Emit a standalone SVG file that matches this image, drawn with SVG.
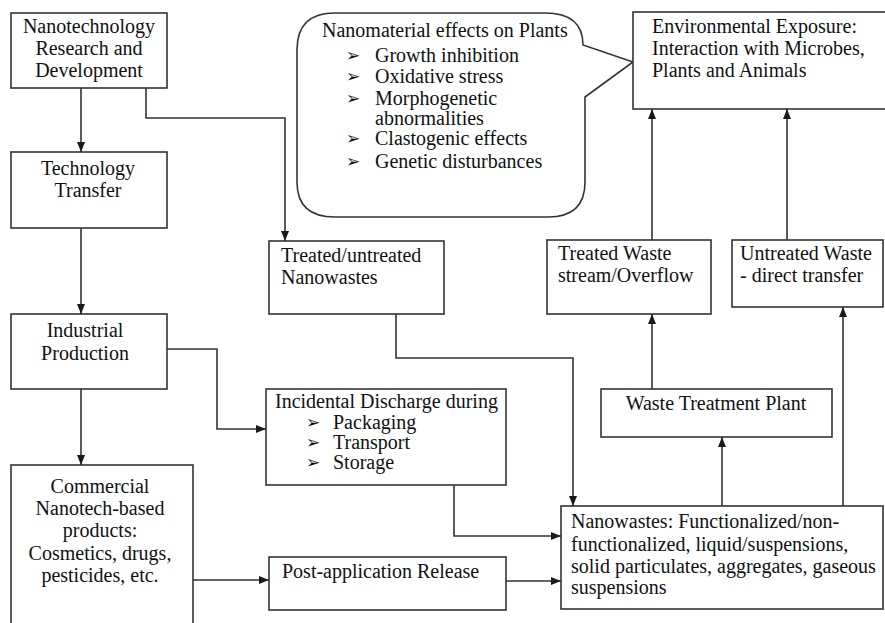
<svg xmlns="http://www.w3.org/2000/svg" width="885" height="623" viewBox="0 0 885 623">
<defs>
<marker id="ah" markerUnits="userSpaceOnUse" markerWidth="10" markerHeight="10" viewBox="0 0 10 10" refX="10" refY="5" orient="auto">
<path d="M0,1 L10,5 L0,9 Z" fill="#1a1a1a"/>
</marker>
<style>
.box{fill:#fff;stroke:#333;stroke-width:1.6}
.t{font-family:'Liberation Serif','DejaVu Serif','Times New Roman',serif;font-size:20px;fill:#111}
.c{text-anchor:middle}
.b{font-family:'DejaVu Sans',sans-serif;font-size:17px;fill:#111}
.con path{fill:none;stroke:#333;stroke-width:1.6;marker-end:url(#ah)}
</style>
</defs>
<rect width="885" height="623" fill="#fff"/>

<g id="bubble">
<path class="box" d="M335,13 H545 Q583,13 583,45 L633,62 L585,97 V182 Q585,217 548,217 H335 Q297,217 297,182 V50 Q297,13 335,13 Z"/>
<text class="t" font-family="Liberation Serif" x="322" y="37">Nanomaterial effects on Plants</text>
<text class="b" x="346" y="61">➢</text><text class="t" font-family="Liberation Serif" x="375" y="62">Growth inhibition</text>
<text class="b" x="346" y="82">➢</text><text class="t" font-family="Liberation Serif" x="375" y="83">Oxidative stress</text>
<text class="b" x="346" y="104">➢</text><text class="t" font-family="Liberation Serif" x="375" y="105">Morphogenetic</text>
<text class="t" font-family="Liberation Serif" x="375" y="125">abnormalities</text>
<text class="b" x="346" y="144">➢</text><text class="t" font-family="Liberation Serif" x="375" y="145">Clastogenic effects</text>
<text class="b" x="346" y="167">➢</text><text class="t" font-family="Liberation Serif" x="375" y="168">Genetic disturbances</text>
</g>

<g id="rnd" font-family="Liberation Serif">
<rect class="box" x="11" y="13" width="156" height="75"/>
<text class="t c" x="89" y="33">Nanotechnology</text>
<text class="t c" x="89" y="55">Research and</text>
<text class="t c" x="89" y="77">Development</text>
</g>

<g id="techtransfer">
<rect class="box" x="11" y="152" width="156" height="76"/>
<text class="t c" x="88" y="175">Technology</text>
<text class="t c" x="88" y="197">Transfer</text>
</g>

<g id="industrial">
<rect class="box" x="11" y="314" width="156" height="75"/>
<text class="t c" x="85" y="337">Industrial</text>
<text class="t c" x="85" y="360">Production</text>
</g>

<g id="commercial">
<rect class="box" x="11" y="465" width="182" height="170"/>
<text class="t c" x="100" y="493">Commercial</text>
<text class="t c" x="100" y="515">Nanotech-based</text>
<text class="t c" x="100" y="537">products:</text>
<text class="t c" x="100" y="560">Cosmetics, drugs,</text>
<text class="t c" x="100" y="582">pesticides, etc.</text>
</g>

<g id="nanowastes-tu">
<rect class="box" x="269" y="241" width="175" height="73"/>
<text class="t" x="281" y="262">Treated/untreated</text>
<text class="t" x="281" y="284">Nanowastes</text>
</g>

<g id="incidental">
<rect class="box" x="266" y="389" width="240" height="96"/>
<text class="t" x="275" y="408">Incidental Discharge during</text>
<text class="b" x="306" y="428">➢</text><text class="t" x="333" y="429">Packaging</text>
<text class="b" x="306" y="448">➢</text><text class="t" x="333" y="449">Transport</text>
<text class="b" x="306" y="468">➢</text><text class="t" x="333" y="469">Storage</text>
</g>

<g id="postapp">
<rect class="box" x="269" y="557" width="237" height="53"/>
<text class="t" x="282" y="578">Post-application Release</text>
</g>

<g id="nanowastes">
<rect class="box" x="561" y="506" width="322" height="103"/>
<text class="t" x="571" y="528">Nanowastes: Functionalized/non-</text>
<text class="t" x="571" y="551">functionalized, liquid/suspensions,</text>
<text class="t" x="571" y="573">solid particulates, aggregates, gaseous</text>
<text class="t" x="571" y="594">suspensions</text>
</g>

<g id="wtp">
<rect class="box" x="601" y="389" width="231" height="48"/>
<text class="t c" x="716" y="410">Waste Treatment Plant</text>
</g>

<g id="treatedwaste">
<rect class="box" x="547" y="240" width="164" height="74"/>
<text class="t" x="558" y="260">Treated Waste</text>
<text class="t" x="558" y="282">stream/Overflow</text>
</g>

<g id="untreatedwaste">
<rect class="box" x="732" y="240" width="151" height="67"/>
<text class="t" x="740" y="260">Untreated Waste</text>
<text class="t" x="740" y="282">- direct transfer</text>
</g>

<g id="env">
<rect class="box" x="633" y="12" width="260" height="97"/>
<text class="t" x="652" y="33">Environmental Exposure:</text>
<text class="t" x="652" y="55">Interaction with Microbes,</text>
<text class="t" x="652" y="77">Plants and Animals</text>
</g>

<g id="connectors" class="con">
<path d="M81,88 V152"/>
<path d="M146,88 V118 H285 V241"/>
<path d="M81,228 V314"/>
<path d="M167,349 H217 V429 H266"/>
<path d="M81,389 V465"/>
<path d="M193,580 H269"/>
<path d="M396,314 V358 H573 V506"/>
<path d="M454,485 V536 H561"/>
<path d="M506,581 H561"/>
<path d="M722,506 V437"/>
<path d="M652,389 V314"/>
<path d="M843,506 V307"/>
<path d="M652,240 V109"/>
<path d="M787,240 V109"/>
</g>
</svg>
